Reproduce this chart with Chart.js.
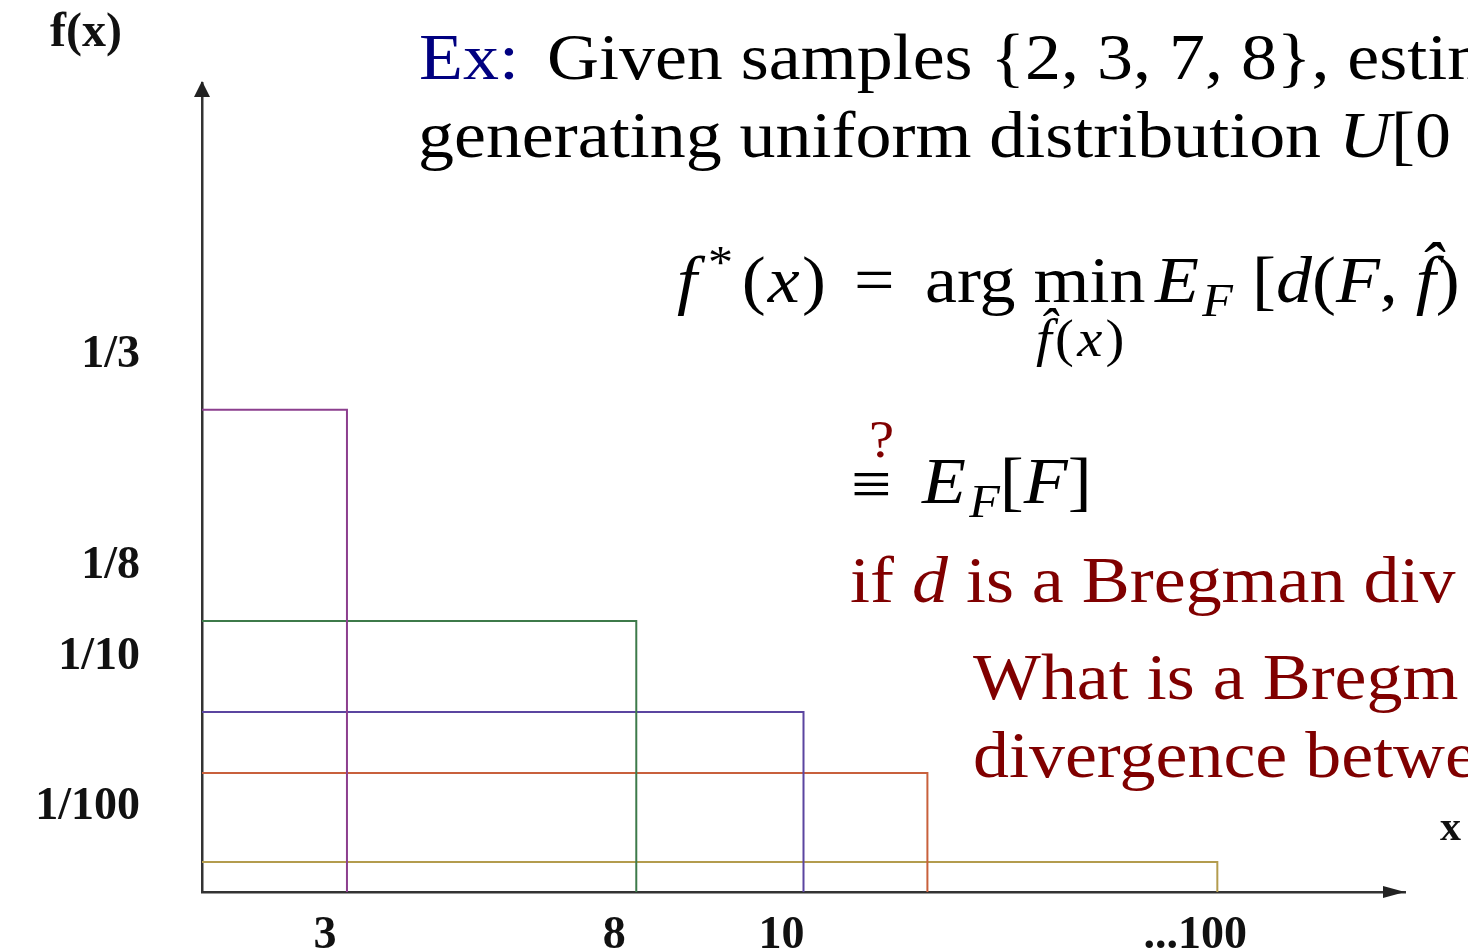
<!DOCTYPE html>
<html>
<head>
<meta charset="utf-8">
<title>Uniform densities U[0, θ]</title>
<script src="https://cdn.jsdelivr.net/npm/chart.js@4.4.1/dist/chart.umd.min.js"></script>
<style>
  html, body { margin: 0; padding: 0; background: #fff; overflow: hidden; }
  #wrap { position: relative; width: 1468px; height: 951px; overflow: hidden; }
  #wrap canvas { position: absolute; left: 0; top: 0; }
  .t {
    position: absolute; white-space: nowrap;
    font-family: 'Liberation Serif', 'Times New Roman', serif;
    font-size: 66px; line-height: 66px; color: #000;
    transform-origin: 0 0; transform: scaleX(1.09);
  }
  .s { font-size: 52px; line-height: 52px; letter-spacing: 3px; }
  .navy { color: #000080; }
  .red { color: #800000; }
  i { font-style: italic; }
  .sub { font-size: 46px; line-height: 0; position: relative; top: 14px; }
  .sup { font-size: 46px; line-height: 0; position: relative; top: -24px; margin: 0 6px 0 8px; }
</style>
</head>
<body>
<div id="wrap">
  <canvas id="densityChart" width="1468" height="951"></canvas>

  <div class="t navy" style="left:419px; top:24px">Ex:</div>
  <div class="t" style="left:547px; top:24px">Given samples {2, 3, 7, 8}, estim</div>
  <div class="t" style="left:418px; top:102px">generating uniform distribution <i>U</i>[0</div>

  <div class="t" style="left:677px; top:247px; letter-spacing:2px"><i>f</i><span class="sup">*</span>(<i>x</i>)</div>
  <div class="t" style="left:854px; top:247px">=</div>
  <div class="t" style="left:925px; top:247px">arg min</div>
  <div class="t" style="left:1155px; top:247px"><i>E</i><span class="sub" style="margin-left:3px"><i>F</i></span></div>
  <div class="t" style="left:1252px; top:247px">[<i>d</i>(<i>F</i>, <i>f̂</i>)</div>
  <div class="t s" style="left:1036px; top:313px"><i>f̂</i>(<i>x</i>)</div>

  <div class="t s red" style="left:869px; top:414px; letter-spacing:0">?</div>
  <div class="t" style="left:851px; top:451px">≡</div>
  <div class="t" style="left:922px; top:448px"><i>E</i><span class="sub" style="margin-left:3px"><i>F</i></span>[<i>F</i>]</div>

  <div class="t red" style="left:850px; top:547px">if <i>d</i> is a Bregman div</div>
  <div class="t red" style="left:973px; top:644px">What is a Bregm</div>
  <div class="t red" style="left:973px; top:722px">divergence betwe</div>
</div>

<script>
// upper end θ of each U[0, θ] and its density 1/θ, as axis labels
const supportLabels = ['3', '8', '10', '', '...100'];
const densityLabels = ['1/3', '1/8', '1/10', '', '1/100'];

// sketch positions on the axes (0-100 drawing units, not to scale)
const supportEnds = [12.05, 36.1, 50.0, 60.3, 84.4];
const densityHeights = [59.6, 33.5, 22.25, 14.7, 3.7];

const boxColors = ['#8c3f8e', '#3d7a4a', '#5b45a0', '#c8603c', '#b39c4e'];

const tickFont = { family: "'Liberation Serif', 'Times New Roman', serif", size: 46, weight: 'bold' };

// each density is a box: top edge from the f(x) axis, then down to the x axis
const datasets = supportEnds.map((end, i) => ({
    label: 'U[0, ' + (supportLabels[i] || '?') + ']',
    data: [
        { x: 0, y: densityHeights[i] },
        { x: end, y: densityHeights[i] },
        { x: end, y: 0 }
    ],
    borderColor: boxColors[i],
    borderWidth: 2,
    pointRadius: 0,
    showLine: true,
    fill: false
}));

// arrow heads and axis names
const axisArrows = {
    id: 'axisArrows',
    afterDraw(chart) {
        const { ctx, chartArea: a } = chart;
        ctx.save();
        ctx.fillStyle = '#222';
        ctx.beginPath();
        ctx.moveTo(a.left, a.top - 2);
        ctx.lineTo(a.left - 8, a.top + 14);
        ctx.lineTo(a.left + 8, a.top + 14);
        ctx.closePath();
        ctx.fill();

        ctx.beginPath();
        ctx.moveTo(a.right, a.bottom);
        ctx.lineTo(a.right - 22, a.bottom - 6);
        ctx.lineTo(a.right - 22, a.bottom + 6);
        ctx.closePath();
        ctx.fill();

        ctx.fillStyle = '#111';
        ctx.textBaseline = 'alphabetic';
        ctx.font = "bold 48px 'Liberation Serif', serif";
        ctx.fillText('f(x)', a.left - 152, a.top - 37);
        ctx.font = "bold 42px 'Liberation Serif', serif";
        ctx.fillText('x', a.right + 35, a.bottom - 52);
        ctx.restore();
    }
};

// keep the plot box fixed; tick labels must not push it inwards
const noPadding = s => {
    s.paddingTop = 0;
    s.paddingBottom = 0;
    s.paddingLeft = 0;
    s.paddingRight = 0;
};

const ctx = document.getElementById('densityChart').getContext('2d');
const densityChart = new Chart(ctx, {
    type: 'scatter',
    data: { datasets: datasets },
    plugins: [axisArrows],
    options: {
        responsive: false,
        animation: false,
        layout: { padding: { top: 83, right: 63, left: 0, bottom: 0 } },
        plugins: {
            legend: { display: false },
            tooltip: { enabled: false }
        },
        scales: {
            x: {
                type: 'linear',
                min: 0,
                max: 100,
                grid: { display: false },
                border: { color: '#333', width: 2.5 },
                afterFit: s => { s.height = 59; noPadding(s); },
                afterBuildTicks: s => {
                    s.ticks = supportEnds
                        .filter((v, i) => supportLabels[i])
                        .map(v => ({ value: v }));
                },
                ticks: {
                    font: tickFont,
                    color: '#111',
                    padding: 9,
                    labelOffset: -22,
                    maxRotation: 0,
                    autoSkip: false,
                    callback: v => supportLabels[supportEnds.indexOf(v)]
                }
            },
            y: {
                type: 'linear',
                min: 0,
                max: 100,
                grid: { display: false },
                border: { color: '#333', width: 2.5 },
                afterFit: s => { s.width = 202; noPadding(s); },
                afterBuildTicks: s => {
                    s.ticks = densityHeights
                        .filter((v, i) => densityLabels[i])
                        .map(v => ({ value: v }));
                },
                ticks: {
                    font: tickFont,
                    color: '#111',
                    padding: 54,
                    labelOffset: -55,
                    autoSkip: false,
                    callback: v => densityLabels[densityHeights.indexOf(v)]
                }
            }
        }
    }
});
</script>
</body>
</html>
